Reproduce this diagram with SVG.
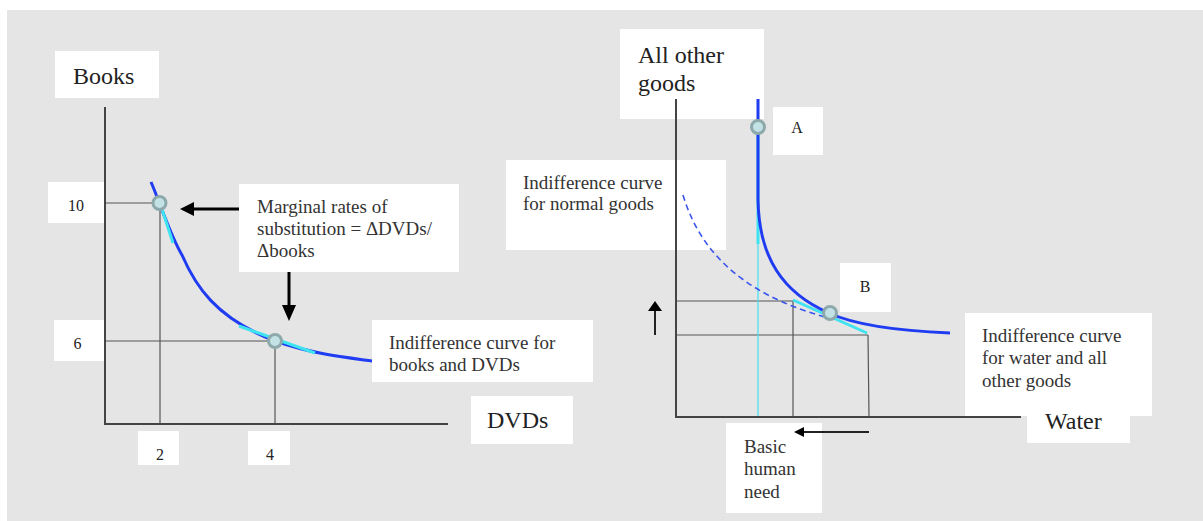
<svg xmlns="http://www.w3.org/2000/svg" width="1203" height="521" viewBox="0 0 1203 521">
<style>
.box{fill:#ffffff}
text{font-family:'Liberation Serif','DejaVu Serif','Noto Serif',serif}
.big{font-size:24px;fill:#222}
.sm{font-size:19px;fill:#333}
.num{font-size:16px;fill:#222}
.axis{stroke:#444;stroke-width:2;fill:none}
.guide{stroke:#555;stroke-width:1.2;fill:none}
.curve{stroke:#1f3cf2;stroke-width:3;fill:none}
.tan{stroke:#3fe3f0;stroke-width:3;fill:none}
.pt{fill:#c3e2e6;stroke:#8ea9ac;stroke-width:3}
</style>
<rect x="7" y="10" width="1196" height="511" fill="#e5e5e5"/>

<g id="left-chart">
  <g id="guides-left">
    <line class="guide" x1="105" y1="203" x2="160" y2="203"/>
    <line class="guide" x1="160" y1="203" x2="160" y2="424"/>
    <line class="guide" x1="105" y1="341" x2="275" y2="341"/>
    <line class="guide" x1="275" y1="341" x2="275" y2="424"/>
  </g>
  <g id="label-books"><rect class="box" x="55" y="51" width="104" height="47"/><text class="big" x="73" y="84">Books</text></g>
  <g id="label-10"><rect class="box" x="48" y="182" width="56" height="41"/><text class="num" x="76" y="211" text-anchor="middle">10</text></g>
  <g id="label-6"><rect class="box" x="54" y="320" width="50" height="41"/><text class="num" x="77.5" y="349" text-anchor="middle">6</text></g>
  <g id="label-2"><rect class="box" x="138" y="431" width="41" height="34"/><text class="num" x="160" y="460" text-anchor="middle">2</text></g>
  <g id="label-4"><rect class="box" x="248" y="431" width="42" height="34"/><text class="num" x="270" y="460" text-anchor="middle">4</text></g>
  <g id="label-dvds"><rect class="box" x="471" y="396" width="102" height="48"/><text class="big" x="487" y="428">DVDs</text></g>
  <g id="axes-left">
    <line class="axis" x1="105" y1="107" x2="105" y2="425"/>
    <line class="axis" x1="104" y1="424" x2="448" y2="424"/>
  </g>
  <g id="curve-books">
    <path class="curve" d="M151,182 C159,200 170,235 182,255 C195,285 215,318 275,341 C313,354 342,357 372,361"/>
    <line class="tan" x1="160" y1="203" x2="173" y2="243"/>
    <line class="tan" x1="239" y1="326" x2="315" y2="353"/>
  </g>
  <g id="point-10"><circle class="pt" cx="159.5" cy="203" r="6.5"/></g>
  <g id="point-6"><circle class="pt" cx="275" cy="341" r="6.5"/></g>
  <g id="label-mrs"><rect class="box" x="239" y="184" width="220" height="88"/>
    <text class="sm" x="257" y="213">Marginal rates of</text>
    <text class="sm" x="257" y="235">substitution = ΔDVDs/</text>
    <text class="sm" x="257" y="257">Δbooks</text></g>
  <g id="label-ic-books"><rect class="box" x="372" y="320" width="221" height="62"/>
    <text class="sm" x="389" y="349">Indifference curve for</text>
    <text class="sm" x="389" y="371">books and DVDs</text></g>
</g>

<g id="right-chart">
  <g id="guides-right">
    <line class="guide" x1="676" y1="301" x2="793" y2="301"/>
    <line class="guide" x1="793" y1="301" x2="793" y2="416"/>
    <line class="guide" x1="676" y1="335" x2="868" y2="335"/>
    <line class="guide" x1="868" y1="335" x2="869" y2="416"/>
    <line x1="758" y1="244" x2="758" y2="416" stroke="#3fe3f0" stroke-width="1.2"/>
  </g>
  <g id="label-allother"><rect class="box" x="620" y="29" width="144" height="90"/>
    <text class="big" x="638" y="63">All other</text>
    <text class="big" x="638" y="91">goods</text></g>
  <g id="label-a"><rect class="box" x="773" y="107" width="50" height="48"/><text class="num" x="797" y="133" text-anchor="middle">A</text></g>
  <g id="label-b"><rect class="box" x="840" y="263" width="51" height="49"/><text class="num" x="865" y="292" text-anchor="middle">B</text></g>
  <g id="label-normal"><rect class="box" x="506" y="160" width="220" height="90"/>
    <text class="sm" x="523" y="189">Indifference curve</text>
    <text class="sm" x="523" y="210">for normal goods</text></g>
  <g id="label-ic-water"><rect class="box" x="965" y="313" width="187" height="103"/>
    <text class="sm" x="982" y="342">Indifference curve</text>
    <text class="sm" x="982" y="364">for water and all</text>
    <text class="sm" x="982" y="387">other goods</text></g>
  <g id="label-water"><rect class="box" x="1027" y="400" width="103" height="43"/><text class="big" x="1045" y="429">Water</text></g>
  <g id="label-basic"><rect class="box" x="726" y="423" width="96" height="90"/>
    <text class="sm" x="744" y="453">Basic</text>
    <text class="sm" x="744" y="475">human</text>
    <text class="sm" x="744" y="498">need</text></g>
  <g id="axes-right">
    <line class="axis" x1="676" y1="99" x2="676" y2="418"/>
    <line class="axis" x1="675" y1="417" x2="1021" y2="417"/>
  </g>
  <g id="curve-normal">
    <path d="M683,195 C698,245 735,292 825,317" fill="none" stroke="#3a55ee" stroke-width="1.6" stroke-dasharray="6,4"/>
  </g>
  <g id="curve-water">
    <line class="tan" x1="758" y1="127" x2="758" y2="244"/>
    <line class="tan" x1="793" y1="300" x2="867" y2="333"/>
    <path class="curve" d="M758,99 L758,200 C759,258 783,293 829,313 C855,325 900,331 950,333"/>
  </g>
  <g id="point-a"><circle class="pt" cx="758" cy="127" r="6.5"/></g>
  <g id="point-b"><circle class="pt" cx="830" cy="313" r="6.5"/></g>
</g>

<g id="connectors">
  <line x1="239" y1="209" x2="190" y2="209" stroke="#000" stroke-width="3"/>
  <polygon points="180,209 194,202 194,216" fill="#000"/>
  <line x1="289" y1="272" x2="289" y2="308" stroke="#000" stroke-width="3"/>
  <polygon points="289,321 282,305 296,305" fill="#000"/>
  <line x1="655" y1="335" x2="655" y2="308" stroke="#222" stroke-width="2"/>
  <polygon points="655,301 648,311 662,311" fill="#000"/>
  <line x1="869" y1="432" x2="800" y2="432" stroke="#222" stroke-width="2"/>
  <polygon points="794,432 804,427 804,437" fill="#000"/>
</g>
</svg>
